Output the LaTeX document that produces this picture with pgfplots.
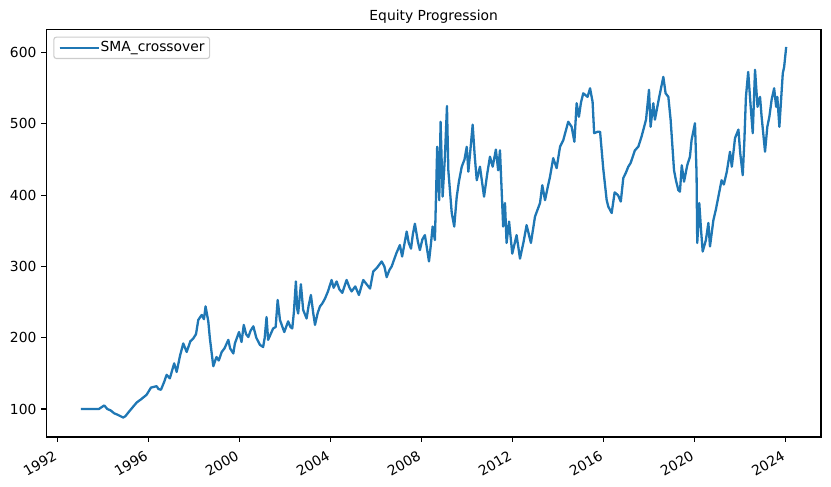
\documentclass[border=0pt]{standalone}
\usepackage{fontspec}
\setmainfont{DejaVu Sans}
\usepackage{pgfplots}
\pgfplotsset{compat=1.18}
\definecolor{mplblue}{HTML}{1F77B4}
\definecolor{mplgrid}{HTML}{CCCCCC}
\begin{document}
\fontsize{13.9}{16.5}\selectfont
\begin{tikzpicture}[font=\fontsize{13.9}{16.5}\selectfont]
	\useasboundingbox (-46.3bp,-50bp) rectangle (784.7bp,437bp);
	\begin{axis}[
		scale only axis,
		width=774.7bp, height=407.7bp,
		xmin=1991.52, xmax=2025.57,
		ymin=60.7, ymax=632.8,
		tick label style={font=\fontsize{13.9}{16.5}\selectfont},
		axis line style={line width=1.1bp},
		tick align=outside,
		xtick pos=bottom, ytick pos=left,
		major tick length=4.9bp,
		every tick/.style={black, line width=1.1bp},
		/pgf/number format/assume math mode=true,
		xtick={1992,1996,2000,2004,2008,2012,2016,2020,2024},
		xticklabels={1992,1996,2000,2004,2008,2012,2016,2020,2024},
		ytick={100,200,300,400,500,600},
		xticklabel style={rotate=30, anchor=north east, inner sep=0pt, yshift=-4.7bp, xshift=-8bp},
		yticklabel style={inner sep=0pt, xshift=-4.8bp},
		every axis title shift=0pt,
		title={Equity Progression},
		title style={at={(0.5,1)}, anchor=base, inner sep=0pt, yshift=8.3bp, font=\fontsize{13.9}{16.5}\selectfont},
		legend style={at={(0,1)}, anchor=north west, xshift=7bp, yshift=-7.3bp,
			draw=mplgrid, rounded corners=2.5bp, fill=white, fill opacity=0.8, text opacity=1,
			inner xsep=4.7bp, inner ysep=2bp, line width=1.1bp,
			nodes={inner xsep=0.3bp, inner ysep=2.5bp},
			font=\fontsize{13.9}{16.5}\selectfont},
		legend cell align=left,
		legend image code/.code={\draw[#1] (0bp,0bp) -- (30bp,0bp); \path (0bp,0bp) -- (39.5bp,0bp);},
	]
		\addplot[mplblue, line width=2.3bp, line join=round, mark=none] coordinates {
			(1993.04,100) (1993.50,100) (1993.83,100) (1994.07,105) (1994.20,100)
			(1994.35,98) (1994.50,94) (1994.65,92) (1994.90,88) (1995.00,90)
			(1995.20,98) (1995.49,109) (1995.70,114) (1995.93,120) (1996.12,130)
			(1996.37,132) (1996.45,128) (1996.56,127) (1996.70,138) (1996.81,148)
			(1996.95,143) (1997.14,164) (1997.25,152) (1997.40,175) (1997.54,192)
			(1997.69,180) (1997.85,195) (1997.98,199) (1998.10,205) (1998.20,225)
			(1998.35,232) (1998.45,226) (1998.52,244) (1998.64,223) (1998.71,199)
			(1998.86,160) (1999.00,173) (1999.10,168) (1999.23,180) (1999.35,185)
			(1999.52,197) (1999.60,185) (1999.74,178) (1999.81,192) (1999.99,208)
			(2000.10,194) (2000.20,218) (2000.30,205) (2000.40,201) (2000.50,210)
			(2000.62,216) (2000.75,200) (2000.91,190) (2001.05,187) (2001.12,200)
			(2001.20,229) (2001.27,197) (2001.38,205) (2001.49,213) (2001.60,215)
			(2001.69,253) (2001.79,225) (2001.90,215) (2001.98,208) (2002.15,223)
			(2002.25,215) (2002.33,213) (2002.40,235) (2002.49,279) (2002.55,240)
			(2002.59,234) (2002.71,275) (2002.81,239) (2002.96,227) (2003.05,245)
			(2003.15,260) (2003.25,235) (2003.33,218) (2003.45,235) (2003.55,244)
			(2003.65,248) (2003.77,255) (2003.90,265) (2004.06,281) (2004.15,270)
			(2004.28,279) (2004.40,268) (2004.53,263) (2004.72,281) (2004.85,270)
			(2004.94,265) (2005.10,272) (2005.26,260) (2005.45,281) (2005.60,275)
			(2005.75,269) (2005.89,293) (2006.05,298) (2006.26,307) (2006.38,300)
			(2006.48,285) (2006.60,295) (2006.70,300) (2006.90,318) (2007.06,330)
			(2007.16,314) (2007.36,349) (2007.45,333) (2007.55,325) (2007.63,345)
			(2007.72,360) (2007.85,335) (2007.94,323) (2008.05,338) (2008.16,344)
			(2008.34,307) (2008.42,330) (2008.50,356) (2008.60,337) (2008.65,400)
			(2008.70,468) (2008.79,393) (2008.85,503) (2008.94,398) (2009.04,454)
			(2009.13,525) (2009.19,435) (2009.34,375) (2009.45,356) (2009.56,398)
			(2009.66,420) (2009.78,440) (2009.90,450) (2010.00,468) (2010.07,433)
			(2010.15,460) (2010.26,499) (2010.35,455) (2010.44,421) (2010.58,440)
			(2010.76,398) (2010.90,430) (2011.02,454) (2011.14,440) (2011.28,464)
			(2011.38,435) (2011.46,463) (2011.60,356) (2011.68,389) (2011.75,333)
			(2011.86,363) (2012.00,318) (2012.19,344) (2012.34,311) (2012.50,335)
			(2012.63,358) (2012.82,333) (2013.00,370) (2013.22,389) (2013.32,414)
			(2013.44,393) (2013.55,410) (2013.66,426) (2013.80,452) (2013.95,438)
			(2014.10,468) (2014.24,477) (2014.35,490) (2014.46,503) (2014.61,496)
			(2014.73,475) (2014.83,529) (2014.93,510) (2015.02,530) (2015.12,543)
			(2015.31,538) (2015.42,550) (2015.53,531) (2015.60,487) (2015.75,489)
			(2015.86,489) (2015.93,463) (2016.00,437) (2016.15,393) (2016.22,384)
			(2016.37,375) (2016.50,404) (2016.65,400) (2016.77,391) (2016.88,424)
			(2017.00,432) (2017.10,440) (2017.20,445) (2017.39,463) (2017.54,468)
			(2017.68,482) (2017.88,506) (2018.01,548) (2018.08,496) (2018.20,529)
			(2018.27,506) (2018.46,538) (2018.64,566) (2018.74,543) (2018.86,538)
			(2018.96,506) (2019.11,435) (2019.20,420) (2019.30,407) (2019.37,405)
			(2019.45,442) (2019.55,419) (2019.69,442) (2019.81,454) (2019.88,477)
			(2020.03,501) (2020.10,431) (2020.13,333) (2020.18,360) (2020.22,389)
			(2020.30,350) (2020.37,321) (2020.45,330) (2020.51,337) (2020.62,361)
			(2020.69,328) (2020.84,365) (2020.95,380) (2021.06,398) (2021.20,421)
			(2021.30,415) (2021.43,433) (2021.57,461) (2021.65,440) (2021.79,480)
			(2021.94,492) (2022.02,459) (2022.13,428) (2022.20,475) (2022.27,538)
			(2022.37,573) (2022.48,524) (2022.57,487) (2022.67,576) (2022.78,524)
			(2022.89,538) (2022.96,510) (2023.11,461) (2023.21,496) (2023.30,510)
			(2023.40,534) (2023.51,550) (2023.60,524) (2023.65,538) (2023.74,496)
			(2023.81,531) (2023.89,571) (2023.95,580) (2024.04,608)
		};
		\addlegendentry{SMA\_crossover}
	\end{axis}
\end{tikzpicture}
\end{document}
